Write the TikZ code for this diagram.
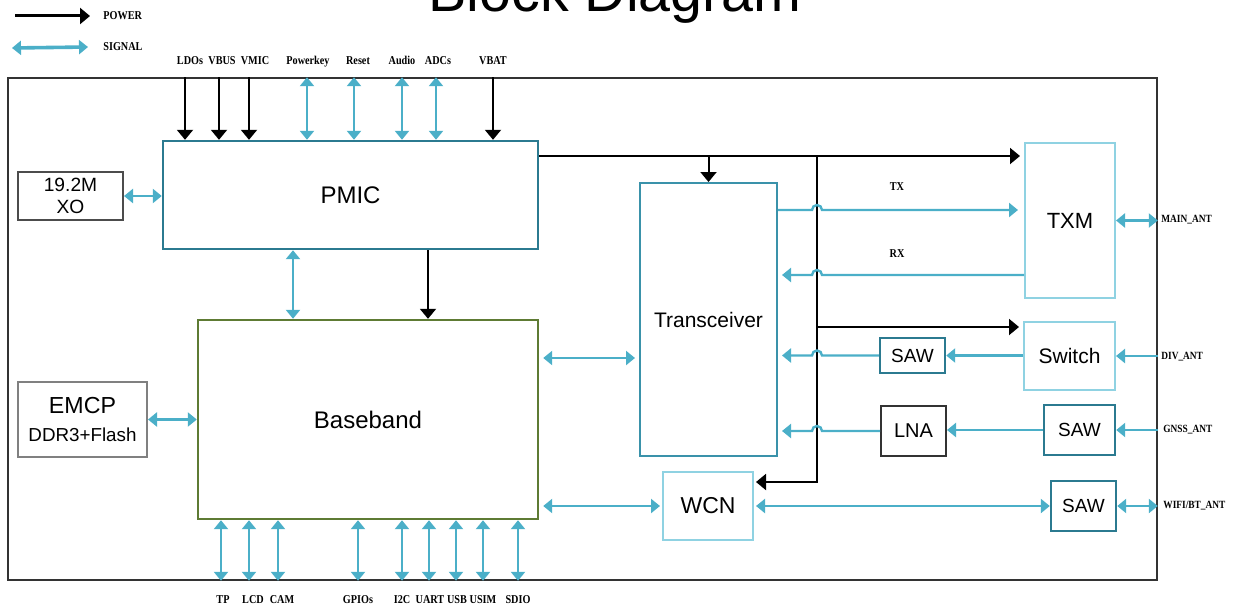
\documentclass[tikz,border=0pt]{standalone}
\usepackage{fontspec}
\setmainfont{Liberation Sans}
\newfontfamily\lblfont[FakeStretch=0.85]{Liberation Serif}
\usepackage{tikz}
\usetikzlibrary{arrows.meta,calc}

\definecolor{sigblue}{HTML}{4BAFC8}
\definecolor{tealdark}{HTML}{2B7A90}
\definecolor{tealmid}{HTML}{3A92AA}
\definecolor{lightblue}{HTML}{8FD2E2}
\definecolor{bbgreen}{HTML}{5E7B34}

\begin{document}
\begin{tikzpicture}[
  x=0.5pt, y=-0.5pt,
  every node/.style={font=\fontsize{10.5}{12}\selectfont},
  box/.style={draw, line width=1pt, inner sep=1pt, align=center},
  pmicbox/.style={box, draw=tealdark, line width=1.2pt, minimum width=187.5pt, minimum height=54pt,
                  font=\fontsize{12}{14}\selectfont},
  bbbox/.style={box, draw=bbgreen, line width=1.2pt, minimum width=170pt, minimum height=99.5pt,
                font=\fontsize{12}{14}\selectfont},
  trxbox/.style={box, draw=tealmid, minimum width=68.5pt, minimum height=136.5pt},
  xobox/.style={box, draw=black!70, minimum width=52.5pt, minimum height=24pt,
                font=\fontsize{9.6}{11}\selectfont},
  emcpbox/.style={box, draw=black!50, minimum width=64.5pt, minimum height=37.5pt,
                  font=\fontsize{11.6}{13}\selectfont},
  lbbox/.style={box, draw=lightblue, minimum width=45pt, minimum height=77.5pt},
  sawbox/.style={box, draw=tealdark, line width=1.2pt, minimum width=32.5pt, minimum height=17.5pt,
                 font=\fontsize{9.5}{11}\selectfont},
  lnabox/.style={box, draw=black!80, minimum width=32.5pt, minimum height=25pt,
                 font=\fontsize{10}{12}\selectfont},
  frame/.style={draw=black!80, line width=0.8pt, minimum width=574.5pt, minimum height=251pt, inner sep=0pt},
  pwr/.style={-{Triangle[length=5pt,width=8pt]}, line width=1pt, color=black},
  sig/.style={{Triangle[length=4.5pt,width=7pt]}-{Triangle[length=4.5pt,width=7pt]}, line width=1.2pt, color=sigblue},
  sigone/.style={-{Triangle[length=4.5pt,width=7pt]}, line width=1.2pt, color=sigblue},
  lbl/.style={font=\lblfont\bfseries\fontsize{6}{7}\selectfont, inner sep=0pt},
  antlbl/.style={font=\lblfont\bfseries\fontsize{5.5}{6}\selectfont, inner sep=0pt, anchor=west},
]
  \useasboundingbox (0,0) rectangle (1251,610);

  % title and legend
  \node[font=\fontsize{28.7}{30}\selectfont, anchor=base] (title) at (615,12) {Block Diagram};
  \node[lbl, anchor=west] (lgpwr) at (103,16) {POWER};
  \node[lbl, anchor=west] (lgsig) at (103,47) {SIGNAL};
  \draw[pwr, line width=1.5pt] (15,16) -- ([xshift=-6.5pt]lgpwr.west);
  \draw[sig, line width=1.8pt] (12,48) -- ([xshift=-7.5pt]lgsig.west);

  % blocks
  \node[frame] (frame) at (582.5,329) {};
  \node[pmicbox] (pmic) at (350.5,195) {PMIC};
  \node[xobox] (xo) at (70.5,196) {19.2M\\XO};
  \node[bbbox] (bb) at (368,419.5) {Baseband};
  \node[emcpbox] (emcp) at (82.5,419.5) {EMCP\\[1pt]{\fontsize{9.4}{11}\selectfont DDR3+Flash}};
  \node[trxbox] (trx) at (708.5,319.5) {Transceiver};
  \node[lbbox, font=\fontsize{11}{13}\selectfont] (txm) at (1070,220.5) {TXM};
  \node[lbbox, minimum width=45.5pt, minimum height=34pt] (sw) at (1069.5,356) {Switch};
  \node[sawbox] (saw1) at (912.5,355.5) {SAW};
  \node[lnabox] (lna) at (913.5,431) {LNA};
  \node[sawbox, minimum width=35.5pt, minimum height=25pt] (saw2) at (1079.5,430) {SAW};
  \node[lbbox, minimum height=34pt, font=\fontsize{11.5}{13}\selectfont] (wcn) at (708,506) {WCN};
  \node[sawbox, minimum height=25pt] (saw3) at (1083.5,506) {SAW};

  % pins on top of PMIC
  \foreach \x in {185,219,249,493}
    \draw[pwr] (frame.north -| \x,0) -- (pmic.north -| \x,0);
  \foreach \x in {307,354,402,436}
    \draw[sig] (frame.north -| \x,0) -- (pmic.north -| \x,0);
  \foreach \x/\t in {190/LDOs,222/VBUS,255/VMIC,308/Powerkey,358/Reset,402/Audio,438/ADCs,493/VBAT}
    \node[lbl, anchor=base] (top-\t) at (\x,65) {\t};

  % pins under baseband
  \foreach \x in {221,249,278,358,402,429,456,483,518}
    \draw[sig] (bb.south -| \x,0) -- (frame.south -| \x,0);
  \foreach \x/\t in {223/TP,253/LCD,282/CAM,358/GPIOs,402/I2C,430/UART,457/USB,483/USIM,518/SDIO}
    \node[lbl, anchor=base] (bot-\t) at (\x,603) {\t};

  % power
  \coordinate (bustop) at (817,156);
  \coordinate (busbot) at (817,482);
  \draw[pwr, shorten >=2pt] (pmic.north east |- bustop) -- (txm.west |- bustop);
  \draw[pwr] (trx.north |- bustop) -- (trx.north);
  \draw[pwr, shorten >=1pt] (bustop) -- (busbot) -- (wcn.east |- busbot);
  \draw[pwr, shorten >=2pt] (bustop |- 0,327) -- (sw.west |- 0,327);
  \draw[pwr] (pmic.south -| 428,0) -- (bb.north -| 428,0);

  % signals
  \draw[sig] (xo.east) -- (pmic.west |- xo.east);
  \draw[sig] (emcp.east) -- (bb.west |- emcp.east);
  \draw[sig] (pmic.south -| 293,0) -- (bb.north -| 293,0);
  \draw[sig, shorten >=2pt, shorten <=2pt] (bb.east |- 0,358) -- (trx.west |- 0,358);
  \draw[sig, shorten <=2pt, shorten >=1pt] (bb.east |- wcn.west) -- (wcn.west);
  \draw[sig, shorten <=1pt] (wcn.east) -- (saw3.west |- wcn.east);

  % RF paths, hopping over the power bus
  \draw[sigone, shorten >=3pt] (trx.east |- 0,210) -- (812,210)
    arc[start angle=180, end angle=0, radius=2.5pt] -- (txm.west |- 0,210);
  \draw[sigone, shorten >=2pt] (txm.west |- 0,275) -- (822,275)
    arc[start angle=0, end angle=180, radius=2.5pt] -- (trx.east |- 0,275);
  \draw[sigone, shorten >=2pt] (saw1.west) -- (822,355.5)
    arc[start angle=0, end angle=180, radius=2.5pt] -- (trx.east |- saw1.west);
  \draw[sigone, shorten >=2pt] (lna.west) -- (822,431)
    arc[start angle=0, end angle=180, radius=2.5pt] -- (trx.east |- lna.west);
  \draw[sigone] (sw.west |- saw1.east) -- (saw1.east);
  \draw[sigone] (saw2.west) -- (saw2.west -| lna.east);
  \node[lbl] (tx) at (897,187) {TX};
  \node[lbl] (rx) at (897,254) {RX};

  % antennas
  \node[antlbl] (mainant) at (1161,220) {MAIN\_ANT};
  \node[antlbl] (divant) at (1161,357) {DIV\_ANT};
  \node[antlbl] (gnssant) at (1163,430) {GNSS\_ANT};
  \node[antlbl] (wifiant) at (1163,506) {WIFI/BT\_ANT};
  \draw[sig] (txm.east) -- (frame.east |- txm.east);
  \draw[sigone] (frame.east |- sw.east) -- (sw.east);
  \draw[sigone] (frame.east |- saw2.east) -- (saw2.east);
  \draw[sig] (saw3.east) -- (frame.east |- saw3.east);
\end{tikzpicture}
\end{document}
